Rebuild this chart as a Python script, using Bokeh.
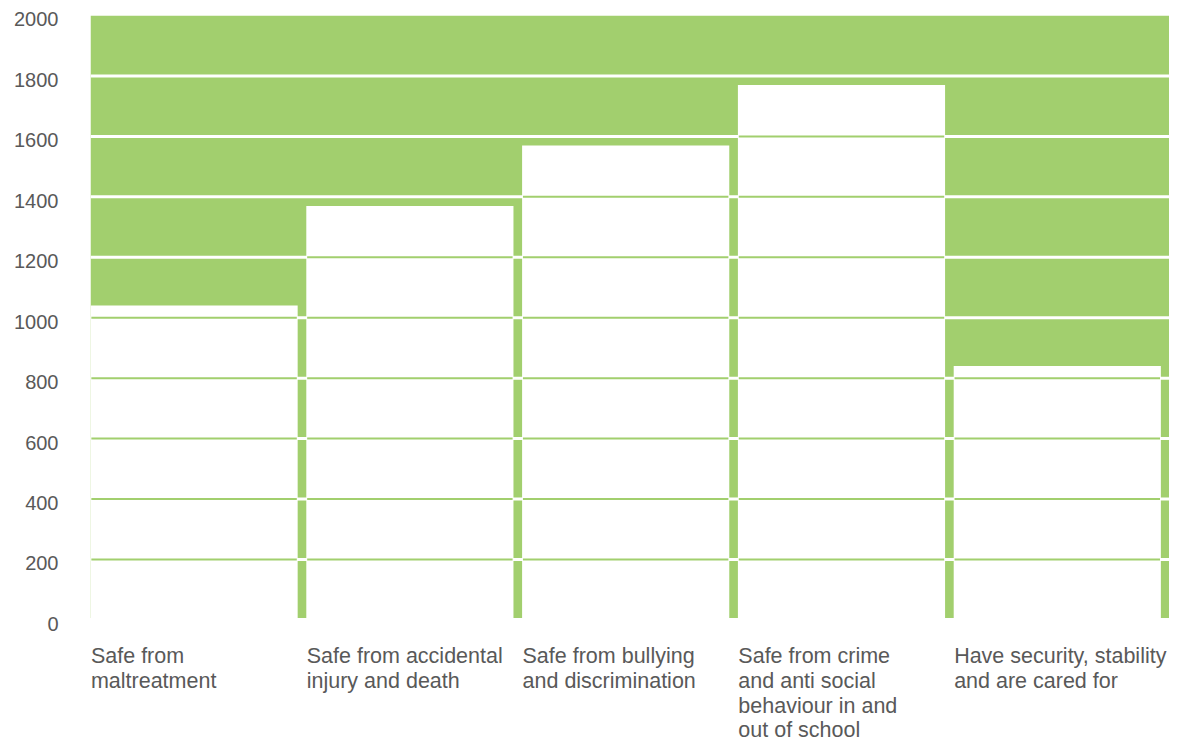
from bokeh.plotting import figure
from bokeh.models import Range1d, LinearAxis, FixedTicker, ColumnDataSource
from bokeh.core.properties import value
from bokeh.embed import file_html
from bokeh.resources import INLINE

categories = [
    "Safe from\nmaltreatment",
    "Safe from accidental\ninjury and death",
    "Safe from bullying\nand discrimination",
    "Safe from crime\nand anti social\nbehaviour in and\nout of school",
    "Have security, stability\nand are cared for",
]
values = [1040, 1370, 1570, 1770, 840]
y_ticks = [0, 200, 400, 600, 800, 1000, 1200, 1400, 1600, 1800, 2000]
y_max = 2000

GREEN = "#a2cf6e"
TEXT = "#595959"

n = len(categories)
bar_w = 0.96
y_start = -409

p = figure(width=1169, height=743, x_range=Range1d(0, n), y_range=Range1d(y_start, y_max),
           output_backend="svg", toolbar_location=None,
           x_axis_location=None, y_axis_location=None,
           min_border_left=90, min_border_right=0, min_border_top=15, min_border_bottom=0)
p.grid.visible = False
p.outline_line_color = None
p.background_fill_color = "white"
p.border_fill_color = "white"

# green backdrop
p.quad(left=[0], right=[n], bottom=[6], top=[y_max], fill_color=GREEN, line_color=None)

# white bars
src = ColumnDataSource(dict(left=[i for i in range(n)], right=[i + bar_w for i in range(n)],
                            bottom=[0] * n, top=values))
p.quad(left="left", right="right", bottom="bottom", top="top", source=src,
       fill_color="white", line_color=None)

# grid lines: white across the backdrop, green inside the bars
levels = [t for t in y_ticks if 0 < t < y_max]
p.segment(x0=[0] * len(levels), x1=[n] * len(levels), y0=levels, y1=levels,
          line_color="white", line_width=3)
gx0, gx1, gy = [], [], []
for i, v in enumerate(values):
    for t in levels:
        if t < v:
            gx0.append(i + 0.004)
            gx1.append(i + bar_w - 0.004)
            gy.append(t)
p.segment(x0=gx0, x1=gx1, y0=gy, y1=gy, line_color=GREEN, line_width=2)

# y axis labels (slightly below grid lines)
p.extra_y_ranges = {"lab": Range1d(y_start + 13, y_max + 13)}
yax = LinearAxis(y_range_name="lab", ticker=FixedTicker(ticks=y_ticks))
yax.axis_line_color = None
yax.major_tick_line_color = None
yax.minor_tick_line_color = None
yax.major_tick_out = 0
yax.major_tick_in = 0
yax.major_label_standoff = 32
yax.major_label_text_font = "Liberation Sans"
yax.major_label_text_font_size = "20px"
yax.major_label_text_color = TEXT
p.add_layout(yax, "left")

# category labels below the columns
tx, ty, toff, tt = [], [], [], []
for i, c in enumerate(categories):
    for j, line in enumerate(c.split("\n")):
        tx.append(i + 0.002)
        ty.append(0)
        toff.append(36.5 + j * 24.6)
        tt.append(line)
p.text(x=tx, y=ty, text=tt, y_offset=toff, text_baseline="middle", text_align="left",
       text_font=value("Liberation Sans"), text_font_size="21.5px", text_color=TEXT)

open("out.html", "w").write(file_html(p, INLINE))
